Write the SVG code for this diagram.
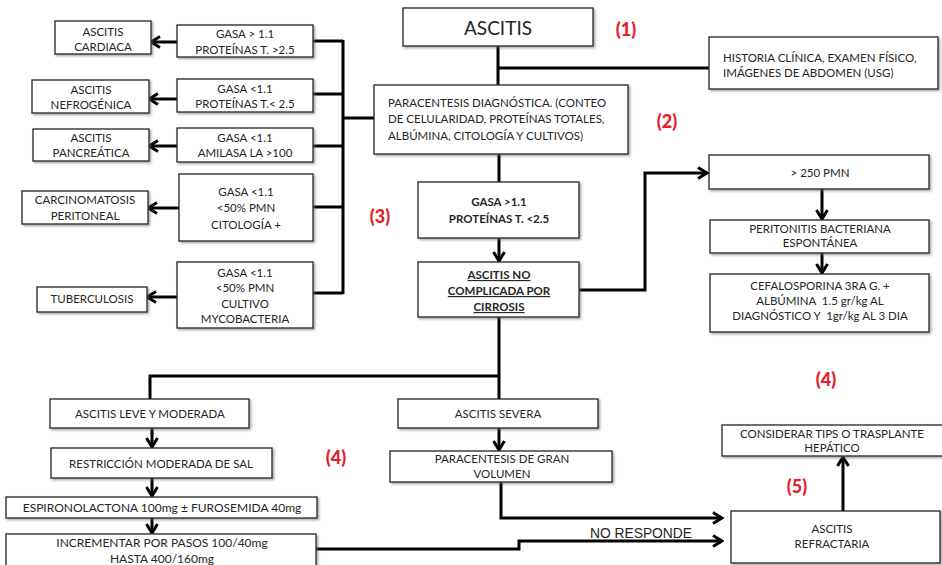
<svg xmlns="http://www.w3.org/2000/svg" width="942" height="565" viewBox="0 0 942 565">
<defs>
<filter id="sh" x="-10%" y="-10%" width="130%" height="140%"><feDropShadow dx="1.5" dy="1.5" stdDeviation="0.8" flood-color="#666" flood-opacity="0.6"/></filter>
<marker id="ah" markerUnits="userSpaceOnUse" markerWidth="14" markerHeight="14" viewBox="0 0 14 14" refX="12" refY="7" orient="auto"><path d="M3,1.5 L12,7 L3,12.5" fill="none" stroke="#000" stroke-width="3"/></marker>
<style>
rect.b{fill:#fff;stroke:#222;stroke-width:1.3;filter:url(#sh)}
text{font-family:Lato,"Open Sans",sans-serif;fill:#262626;font-size:11.5px;text-anchor:middle}
.l{text-anchor:start}
.bd{font-weight:bold}
.u{text-decoration:underline}
.pre{white-space:pre}
.m{font-size:12px}
.big{font-size:19px}
.red{fill:#e3222b;font-weight:900;font-size:18px}
.nr{font-family:"Liberation Sans",Arial,sans-serif;font-size:13.8px;text-anchor:start}
#conn path{fill:none;stroke:#000;stroke-width:3}
.a{marker-end:url(#ah)}
</style>
</defs>
<rect width="942" height="565" fill="#fff"/>
<g id="conn">
<path d="M498,46 V85 M498,68 H709"/>
<path d="M313,41 H343 M313,94 H343 M313,146 H343 M313,207 H343 M313,293 H343 M343,40 V294 M343,118 H374"/>
<path class="a" d="M177,42 H151"/>
<path class="a" d="M177,99 H149"/>
<path class="a" d="M177,146 H149"/>
<path class="a" d="M179,208 H148"/>
<path class="a" d="M177,297 H147"/>
<path d="M499,154 V182"/>
<path class="a" d="M499,238 V261"/>
<path class="a" d="M579,290 H645 V173 H707"/>
<path class="a" d="M822,189 V219"/>
<path class="a" d="M822,253 V273"/>
<path d="M499,317 V399 M499,376 H150 V399"/>
<path class="a" d="M152,428 V447"/>
<path class="a" d="M152,478 V496"/>
<path class="a" d="M152,518 V533"/>
<path class="a" d="M499,428 V450"/>
<path class="a" d="M501,482 V518 H722"/>
<path class="a" d="M316,549 H519 V541 H722"/>
<path class="a" d="M843,511 V457"/>
</g>
<g id="n-ascitis"><rect class="b" x="403" y="8" width="190" height="38"/><text class="big" x="498" y="35">ASCITIS</text></g>
<g id="n-historia"><rect class="b" x="709" y="37" width="229" height="52"/><text class="l" x="723" y="62">HISTORIA CLÍNICA, EXAMEN FÍSICO,</text><text class="l" x="723" y="77">IMÁGENES DE ABDOMEN (USG)</text></g>
<g id="n-paracentesis"><rect class="b" x="374" y="85" width="254" height="69"/><text class="l" x="388" y="107">PARACENTESIS DIAGNÓSTICA. (CONTEO</text><text class="l" x="388" y="123">DE CELULARIDAD, PROTEÍNAS TOTALES,</text><text class="l" x="388" y="140">ALBÚMINA, CITOLOGÍA Y CULTIVOS)</text></g>
<g id="n-cardiaca"><rect class="b" x="55" y="21" width="96" height="33"/><text x="103" y="36">ASCITIS</text><text x="103" y="51">CARDIACA</text></g>
<g id="n-g1"><rect class="b" x="177" y="25" width="136" height="32"/><text x="245" y="38">GASA &gt; 1.1</text><text x="245" y="54">PROTEÍNAS T. &gt;2.5</text></g>
<g id="n-nefro"><rect class="b" x="32" y="80" width="117" height="33"/><text x="91" y="94">ASCITIS</text><text x="91" y="109">NEFROGÉNICA</text></g>
<g id="n-g2"><rect class="b" x="177" y="79" width="136" height="33"/><text x="245" y="93">GASA &lt;1.1</text><text x="245" y="108">PROTEÍNAS T.&lt; 2.5</text></g>
<g id="n-pancrea"><rect class="b" x="33" y="129" width="116" height="32"/><text x="91" y="142">ASCITIS</text><text x="91" y="157">PANCREÁTICA</text></g>
<g id="n-g3"><rect class="b" x="177" y="128" width="136" height="34"/><text x="245" y="142">GASA &lt;1.1</text><text x="245" y="157">AMILASA LA &gt;100</text></g>
<g id="n-carcino"><rect class="b" x="22" y="191" width="126" height="33"/><text x="85" y="204">CARCINOMATOSIS</text><text x="85" y="220">PERITONEAL</text></g>
<g id="n-g4"><rect class="b" x="179" y="174" width="134" height="67"/><text x="246" y="196">GASA &lt;1.1</text><text x="246" y="212">&lt;50% PMN</text><text x="246" y="229">CITOLOGÍA +</text></g>
<g id="n-tuber"><rect class="b" x="37" y="287" width="110" height="25"/><text x="92" y="303">TUBERCULOSIS</text></g>
<g id="n-g5"><rect class="b" x="177" y="262" width="136" height="66"/><text x="245" y="277">GASA &lt;1.1</text><text x="245" y="292">&lt;50% PMN</text><text x="245" y="308">CULTIVO</text><text x="245" y="323">MYCOBACTERIA</text></g>
<g id="n-gasa"><rect class="b" x="418" y="182" width="161" height="56"/><text class="bd" x="499" y="206">GASA &gt;1.1</text><text class="bd" x="499" y="223">PROTEÍNAS T. &lt;2.5</text></g>
<g id="n-nocomp"><rect class="b" x="418" y="262" width="161" height="55"/><text class="bd u" x="499" y="279">ASCITIS NO</text><text class="bd u" x="499" y="295">COMPLICADA POR</text><text class="bd u" x="499" y="311">CIRROSIS</text></g>
<g id="n-pmn"><rect class="b" x="709" y="155" width="220" height="34"/><text x="820" y="177">&gt; 250 PMN</text></g>
<g id="n-pbe"><rect class="b" x="710" y="220" width="219" height="33"/><text x="820" y="233">PERITONITIS BACTERIANA</text><text x="820" y="247">ESPONTÁNEA</text></g>
<g id="n-cefalo"><rect class="b" x="710" y="274" width="219" height="58"/><text x="820" y="290">CEFALOSPORINA 3RA G. +</text><text class="pre" x="820" y="305">ALBÚMINA  1.5 gr/kg AL</text><text class="pre" x="820" y="320">DIAGNÓSTICO Y  1gr/kg AL 3 DIA</text></g>
<g id="n-leve"><rect class="b" x="50" y="399" width="199" height="29"/><text x="150" y="418">ASCITIS LEVE Y MODERADA</text></g>
<g id="n-sal"><rect class="b" x="51" y="448" width="221" height="30"/><text x="161" y="468">RESTRICCIÓN MODERADA DE SAL</text></g>
<g id="n-espiro"><rect class="b" x="6" y="497" width="311" height="21"/><text class="m" x="162" y="512">ESPIRONOLACTONA 100mg ± FUROSEMIDA 40mg</text></g>
<g id="n-incr"><rect class="b" x="6" y="534" width="310" height="40"/><text class="m" x="162" y="547">INCREMENTAR POR PASOS 100/40mg</text><text class="m" x="162" y="563">HASTA 400/160mg</text></g>
<g id="n-severa"><rect class="b" x="398" y="399" width="200" height="29"/><text x="498" y="418">ASCITIS SEVERA</text></g>
<g id="n-pgv"><rect class="b" x="390" y="451" width="222" height="31"/><text x="502" y="463">PARACENTESIS DE GRAN</text><text x="502" y="478">VOLUMEN</text></g>
<g id="n-tips"><rect class="b" x="722" y="425" width="222" height="31"/><text x="832" y="438">CONSIDERAR TIPS O TRASPLANTE</text><text x="832" y="452">HEPÁTICO</text></g>
<g id="n-refr"><rect class="b" x="731" y="511" width="209" height="52"/><text x="832" y="533">ASCITIS</text><text x="832" y="548">REFRACTARIA</text></g>
<g id="labels">
<text class="nr" x="590" y="538">NO RESPONDE</text>
<text class="red" x="626" y="36">(1)</text>
<text class="red" x="667" y="128">(2)</text>
<text class="red" x="380" y="223">(3)</text>
<text class="red" x="336" y="464">(4)</text>
<text class="red" x="826" y="386">(4)</text>
<text class="red" x="797" y="493">(5)</text>
</g>
</svg>
